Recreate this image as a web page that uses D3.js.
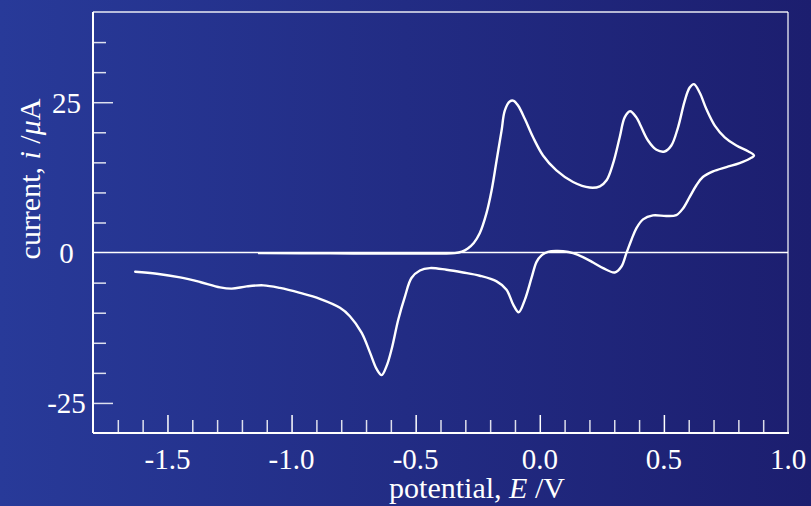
<!DOCTYPE html>
<html>
<head>
<meta charset="utf-8">
<script src="https://cdn.jsdelivr.net/npm/d3@7"></script>
<style>
  html, body { margin: 0; padding: 0; background: #232c86; }
  svg { display: block; }
  text { font-family: "Liberation Serif", "Times New Roman", serif; fill: #ffffff; }
</style>
</head>
<body>
<svg id="chart" width="811" height="506"></svg>
<script>
// Cyclic voltammogram: potential E (V) vs current i (µA)
const potential = [
  -1.131, -0.845, -0.564, -0.403, -0.342, -0.314, -0.290, -0.266, -0.242, -0.215,
  -0.194, -0.174, -0.154, -0.141, -0.121, -0.105, -0.087, -0.060, -0.027, 0.013,
  0.067, 0.134, 0.201, 0.242, 0.269, 0.295, 0.322, 0.342, 0.364, 0.389,
  0.403, 0.436, 0.470, 0.503, 0.530, 0.557, 0.584, 0.604, 0.621, 0.644,
  0.671, 0.705, 0.745, 0.792, 0.839, 0.863,
  0.845, 0.805, 0.752, 0.698, 0.657, 0.631, 0.604, 0.577, 0.550, 0.510,
  0.456, 0.416, 0.389, 0.369, 0.349, 0.329, 0.302, 0.255, 0.215, 0.174,
  0.134, 0.094, 0.067, 0.033, 0.007, -0.013, -0.033, -0.060, -0.085, -0.107,
  -0.134, -0.174,
  -0.242, -0.309, -0.376, -0.443, -0.483, -0.517, -0.543, -0.570, -0.597, -0.617,
  -0.637, -0.657, -0.684, -0.718, -0.765, -0.805, -0.886, -0.966, -1.047, -1.114,
  -1.181, -1.241, -1.288, -1.369, -1.449, -1.543, -1.630
];
const current = [
  -0.10, -0.13, -0.17, -0.15, -0.10, 0.15, 0.69, 1.60, 3.20, 6.51,
  10.36, 15.32, 20.28, 23.59, 25.12, 25.24, 24.41, 22.21, 19.17, 16.15,
  13.67, 11.74, 10.81, 11.02, 12.02, 14.78, 19.17, 22.48, 23.50, 22.48,
  21.39, 18.63, 17.09, 16.81, 17.80, 20.83, 25.24, 27.44, 28.00, 26.61,
  23.87, 21.11, 19.17, 17.80, 16.86, 16.15,
  15.60, 14.88, 14.21, 13.50, 12.56, 11.19, 9.26, 7.34, 6.23, 6.07,
  6.18, 5.52, 4.03, 2.10, -0.10, -2.31, -3.31, -2.58, -1.65, -0.76,
  -0.10, 0.23, 0.28, 0.12, -0.46, -1.54, -4.18, -7.82, -9.92, -8.64,
  -6.17, -4.79,
  -3.85, -3.31, -2.86, -2.58, -2.98, -4.23, -7.27, -11.12, -16.07, -18.84,
  -20.38, -19.39, -16.63, -13.32, -10.58, -9.19, -7.70, -6.71, -5.88, -5.45,
  -5.62, -6.00, -5.79, -4.89, -4.13, -3.52, -3.19
];

const xDomain = [-1.8, 1.0];
const yDomain = [-30, 40];
const xLabelTicks = [-1.5, -1.0, -0.5, 0.0, 0.5, 1.0];
const xMinorTicks = [-1.7, -1.6, -1.4, -1.3, -1.2, -1.1, -0.9, -0.8, -0.7, -0.6,
  -0.4, -0.3, -0.2, -0.1, 0.1, 0.2, 0.3, 0.4, 0.6, 0.7, 0.8, 0.9];
const xMajorTicks = [-1.5, -1.0, -0.5, 0.0, 0.5];
const yLabelTicks = [25, 0, -25];
const yMajorTicks = [25, -25];
const yMinorTicks = [35, 30, 20, 15, 10, 5, -5, -10, -15, -20];

const svg = d3.select("#chart");
const W = 811, H = 506;
const plot = { left: 93, right: 788, top: 12, bottom: 433 };

// background gradient
const defs = svg.append("defs");
const grad = defs.append("linearGradient").attr("id", "bg")
  .attr("x1", "0%").attr("x2", "100%").attr("y1", "0%").attr("y2", "0%");
grad.append("stop").attr("offset", "0%").attr("stop-color", "#283a99");
grad.append("stop").attr("offset", "100%").attr("stop-color", "#1c1e6f");
svg.append("rect").attr("width", W).attr("height", H).attr("fill", "url(#bg)");

const x = d3.scaleLinear().domain(xDomain).range([plot.left, plot.right]);
const y = d3.scaleLinear().domain(yDomain).range([plot.bottom, plot.top]);

// frame: top and right edges
svg.append("line").attr("x1", plot.left).attr("x2", plot.right).attr("y1", plot.top).attr("y2", plot.top)
  .attr("stroke", "#fff").attr("stroke-width", 1.5).attr("stroke-opacity", 0.9);
svg.append("line").attr("x1", plot.right).attr("x2", plot.right).attr("y1", plot.top).attr("y2", plot.bottom)
  .attr("stroke", "#fff").attr("stroke-width", 1.5).attr("stroke-opacity", 0.8);

// x axis ticks (pointing up into the plot)
const xa = svg.append("g").attr("transform", `translate(0,${plot.bottom})`)
  .call(d3.axisBottom(x).tickValues(xMinorTicks).tickSize(-13).tickFormat(""));
const xb = svg.append("g").attr("transform", `translate(0,${plot.bottom})`)
  .call(d3.axisBottom(x).tickValues(xMajorTicks).tickSize(-18).tickFormat(""));
[xa, xb].forEach(a => {
  a.select(".domain").remove();
  a.selectAll(".tick line").attr("stroke", "#fff").attr("stroke-width", 1.5);
});
xa.selectAll(".tick line").attr("stroke-opacity", 0.85);

// y axis ticks (pointing right into the plot)
const ya = svg.append("g").attr("transform", `translate(${plot.left},0)`)
  .call(d3.axisLeft(y).tickValues(yMinorTicks).tickSize(-13).tickFormat(""));
const yb = svg.append("g").attr("transform", `translate(${plot.left},0)`)
  .call(d3.axisLeft(y).tickValues(yMajorTicks).tickSize(-20).tickFormat(""));
[ya, yb].forEach(a => {
  a.select(".domain").remove();
  a.selectAll(".tick line").attr("stroke", "#fff").attr("stroke-width", 1.5).attr("stroke-opacity", 0.85);
});

// axis lines
svg.append("line").attr("x1", plot.left).attr("x2", plot.right + 1).attr("y1", plot.bottom).attr("y2", plot.bottom)
  .attr("stroke", "#fff").attr("stroke-width", 2);
svg.append("line").attr("x1", plot.left).attr("x2", plot.left).attr("y1", plot.top).attr("y2", plot.bottom)
  .attr("stroke", "#fff").attr("stroke-width", 2);

// zero line
svg.append("line").attr("x1", plot.left).attr("x2", plot.right).attr("y1", y(0)).attr("y2", y(0))
  .attr("stroke", "#fff").attr("stroke-width", 1.5);

// tick labels
svg.selectAll(".xlab").data(xLabelTicks).enter().append("text")
  .attr("class", "xlab").attr("x", d => x(d)).attr("y", 469)
  .attr("text-anchor", "middle").attr("font-size", 29)
  .text(d => d.toFixed(1));
svg.selectAll(".ylab").data(yLabelTicks).enter().append("text")
  .attr("class", "ylab").attr("x", 66.5).attr("y", d => y(d) + 10.5)
  .attr("text-anchor", "middle").attr("font-size", 29)
  .text(d => d);

// axis titles
const xt = svg.append("text").attr("x", 477).attr("y", 498)
  .attr("text-anchor", "middle").attr("font-size", 30);
xt.append("tspan").text("potential, ");
xt.append("tspan").attr("font-style", "italic").text("E");
xt.append("tspan").text(" /V");

const yt = svg.append("text").attr("transform", "translate(40,179) rotate(-90)")
  .attr("text-anchor", "middle").attr("font-size", 30);
yt.append("tspan").text("current, ");
yt.append("tspan").attr("font-style", "italic").text("i");
yt.append("tspan").text(" /");
yt.append("tspan").attr("font-style", "italic").text("\u03bc");
yt.append("tspan").text("A");

// voltammogram trace
const pts = potential.map((e, k) => [e, current[k]]);
const line = d3.line().x(d => x(d[0])).y(d => y(d[1])).curve(d3.curveCatmullRom.alpha(0.5));
svg.append("path").datum(pts).attr("d", line)
  .attr("fill", "none").attr("stroke", "#fff").attr("stroke-width", 2.4)
  .attr("stroke-linejoin", "round").attr("stroke-linecap", "round");
</script>
</body>
</html>
